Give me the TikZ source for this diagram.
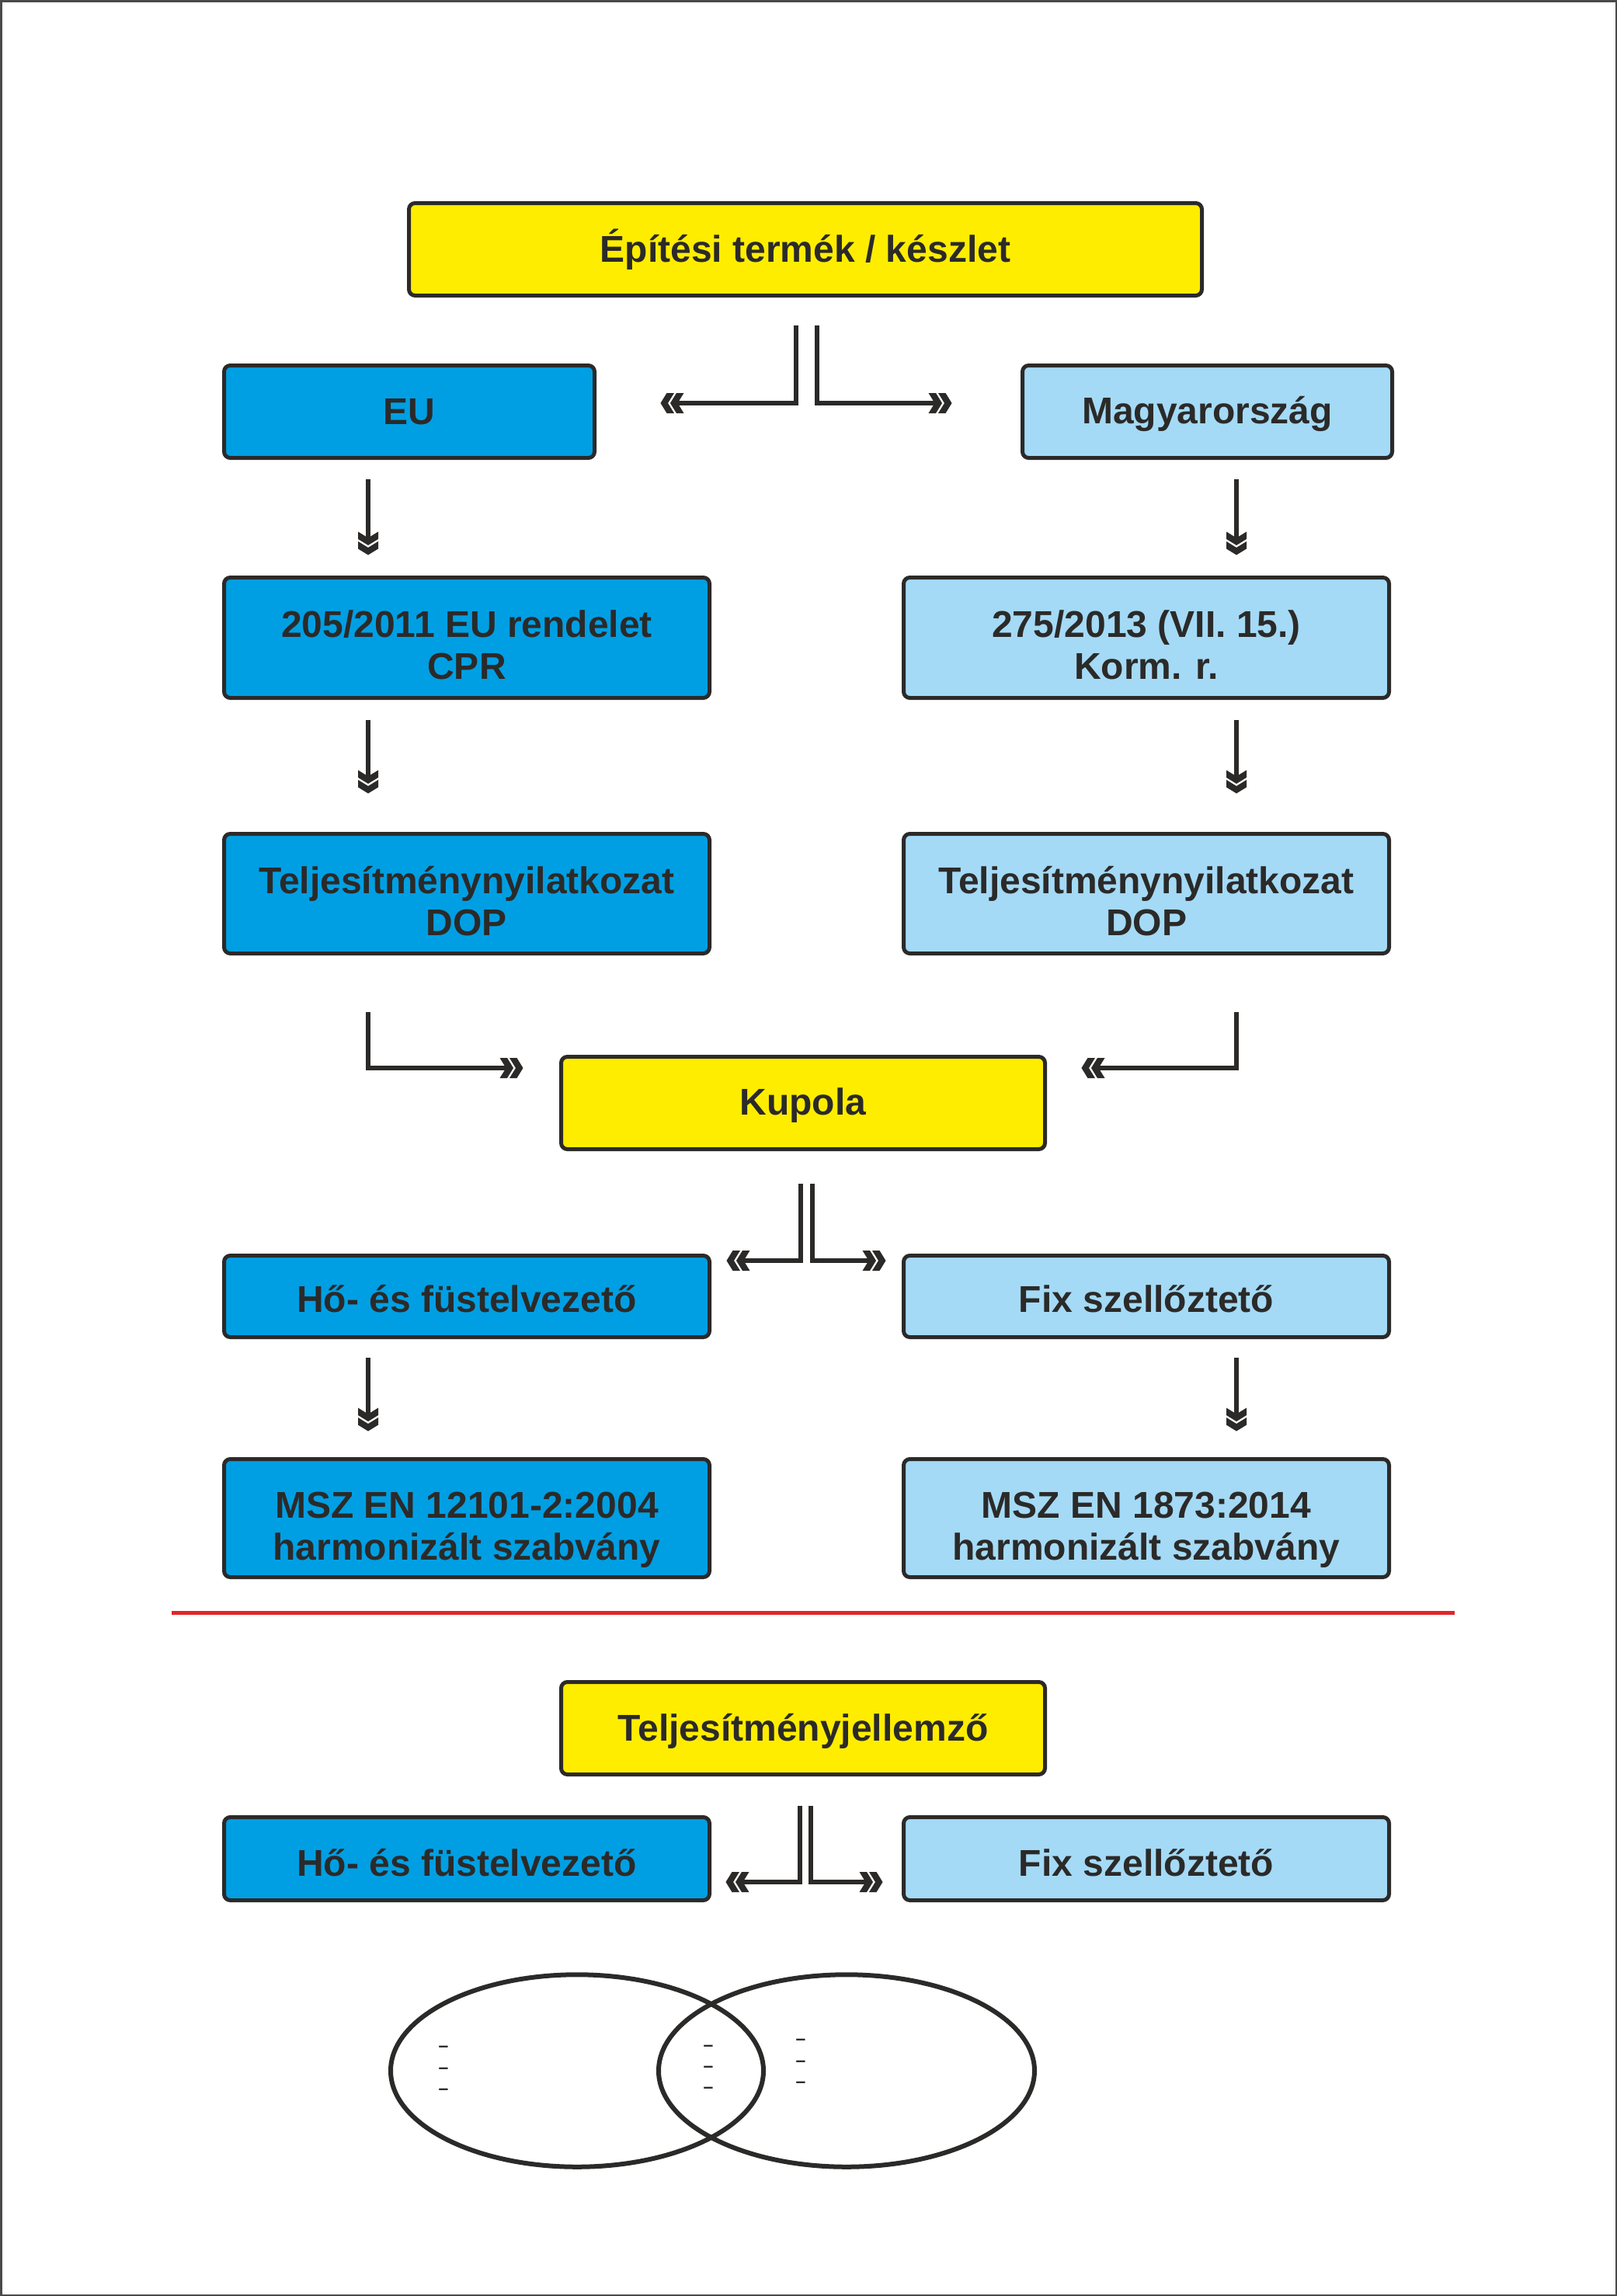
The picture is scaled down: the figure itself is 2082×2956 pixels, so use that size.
\documentclass[tikz,border=0pt]{standalone}
\usepackage{fontspec}
\setmainfont{Liberation Sans}
\usetikzlibrary{arrows.meta}
\definecolor{cYellow}{HTML}{FFED00}
\definecolor{cBlue}{HTML}{009FE3}
\definecolor{cLight}{HTML}{A4DAF6}
\definecolor{cDark}{HTML}{2B2A29}
\definecolor{cRed}{HTML}{E1262B}
\definecolor{cFrame}{HTML}{4A4A4A}

\pgfdeclarearrow{
  name=DChev,
  setup code={
    \pgfarrowssettipend{0pt}
    \pgfarrowssetbackend{-30pt}
    \pgfarrowssetlineend{-21pt}
    \pgfarrowshullpoint{0pt}{0pt}
    \pgfarrowshullpoint{-30pt}{13pt}
    \pgfarrowshullpoint{-30pt}{-13pt}
  },
  drawing code={
    \pgfpathmoveto{\pgfqpoint{0pt}{0pt}}
    \pgfpathlineto{\pgfqpoint{-8pt}{13pt}}
    \pgfpathlineto{\pgfqpoint{-17.5pt}{13pt}}
    \pgfpathlineto{\pgfqpoint{-9.5pt}{0pt}}
    \pgfpathlineto{\pgfqpoint{-17.5pt}{-13pt}}
    \pgfpathlineto{\pgfqpoint{-8pt}{-13pt}}
    \pgfpathclose
    \pgfpathmoveto{\pgfqpoint{-12.5pt}{0pt}}
    \pgfpathlineto{\pgfqpoint{-20.5pt}{13pt}}
    \pgfpathlineto{\pgfqpoint{-30pt}{13pt}}
    \pgfpathlineto{\pgfqpoint{-22pt}{0pt}}
    \pgfpathlineto{\pgfqpoint{-30pt}{-13pt}}
    \pgfpathlineto{\pgfqpoint{-20.5pt}{-13pt}}
    \pgfpathclose
    \pgfusepathqfill
  }
}

\newcommand\dn[2][-16pt]{\raisebox{#1}[\height][\depth]{\begin{tabular}{@{}c@{}}#2\end{tabular}}}

\tikzset{
  box/.style={draw=cDark, line width=5pt, rounded corners=8pt, text=cDark,
    font=\bfseries\fontsize{48}{54}\selectfont, inner sep=0pt},
  ybox/.style={box, fill=cYellow},
  bbox/.style={box, fill=cBlue},
  lbox/.style={box, fill=cLight},
  conn/.style={draw=cDark, line width=6pt, -DChev},
  dashmark/.style={text=cDark, font=\bfseries\fontsize{23}{24}\selectfont, inner sep=0pt},
}

\begin{document}
\begin{tikzpicture}[x=1pt, y=-1pt]
\useasboundingbox (0,0) rectangle (2082,2956);
\draw[cFrame, line width=2.5pt] (1.25,1.25) rectangle (2080.75,2954.75);

% nodes
\node[ybox, minimum width=1021pt, minimum height=119pt] (top) at (1037,321) {\dn[-3pt]{Építési termék / készlet}};
\node[bbox, minimum width=477pt, minimum height=119pt] (eu) at (527,530) {\dn[-6pt]{EU}};
\node[lbox, minimum width=476pt, minimum height=119pt] (mag) at (1554.5,530) {\dn[-5pt]{Magyarország}};
\node[bbox, minimum width=625pt, minimum height=155pt] (r205) at (601,821) {\dn{205/2011 EU rendelet\\CPR}};
\node[lbox, minimum width=625pt, minimum height=155pt] (r275) at (1476,821) {\dn{275/2013 (VII. 15.)\\Korm. r.}};
\node[bbox, minimum width=625pt, minimum height=154pt] (dopL) at (601,1150.5) {\dn{Teljesítménynyilatkozat\\DOP}};
\node[lbox, minimum width=625pt, minimum height=154pt] (dopR) at (1476,1150.5) {\dn{Teljesítménynyilatkozat\\DOP}};
\node[ybox, minimum width=623pt, minimum height=119pt] (kup) at (1034,1420) {\dn[-5pt]{Kupola}};
\node[bbox, minimum width=625pt, minimum height=105pt] (hoL) at (601,1669) {\dn[-10pt]{Hő- és füstelvezető}};
\node[lbox, minimum width=625pt, minimum height=105pt] (fixR) at (1476,1669) {\dn[-10pt]{Fix szellőztető}};
\node[bbox, minimum width=625pt, minimum height=152pt] (mszL) at (601,1954.5) {\dn{MSZ EN 12101-2:2004\\harmonizált szabvány}};
\node[lbox, minimum width=625pt, minimum height=152pt] (mszR) at (1476,1954.5) {\dn{MSZ EN 1873:2014\\harmonizált szabvány}};
\node[ybox, minimum width=623pt, minimum height=119pt] (telj) at (1034,2225) {\dn[-6pt]{Teljesítményjellemző}};
\node[bbox, minimum width=625pt, minimum height=107pt] (ho2) at (601,2393) {\dn[-12pt]{Hő- és füstelvezető}};
\node[lbox, minimum width=625pt, minimum height=107pt] (fix2) at (1476,2393) {\dn[-12pt]{Fix szellőztető}};

% connectors
\draw[conn] ([xshift=-12pt,yshift=-35.5pt]top.south) |- ([xshift=82.5pt,yshift=11pt]eu.east);
\draw[conn] ([xshift=15pt,yshift=-35.5pt]top.south) |- ([xshift=-88.5pt,yshift=11pt]mag.west);

\draw[conn] ([xshift=-53pt,yshift=-24.5pt]eu.south) -- ([xshift=-127pt,yshift=26.5pt]r205.north);
\draw[conn] ([xshift=37.5pt,yshift=-24.5pt]mag.south) -- ([xshift=116pt,yshift=26.5pt]r275.north);

\draw[conn] ([xshift=-127pt,yshift=-25.5pt]r205.south) -- ([xshift=-127pt,yshift=49.5pt]dopL.north);
\draw[conn] ([xshift=116pt,yshift=-25.5pt]r275.south) -- ([xshift=116pt,yshift=49.5pt]dopR.north);

\draw[conn] ([xshift=-127pt,yshift=-72.5pt]dopL.south) |- ([xshift=-46.5pt,yshift=45pt]kup.west);
\draw[conn] ([xshift=116pt,yshift=-72.5pt]dopR.south) |- ([xshift=44.5pt,yshift=45pt]kup.east);

\draw[conn] ([xshift=-3pt,yshift=-41.5pt]kup.south) |- ([xshift=19.5pt,yshift=46pt]hoL.east);
\draw[conn] ([xshift=12pt,yshift=-41.5pt]kup.south) |- ([xshift=-20.5pt,yshift=46pt]fixR.west);

\draw[conn] ([xshift=-127pt,yshift=-23.5pt]hoL.south) -- ([xshift=-127pt,yshift=33.5pt]mszL.north);
\draw[conn] ([xshift=116pt,yshift=-23.5pt]fixR.south) -- ([xshift=116pt,yshift=33.5pt]mszR.north);

\draw[conn] ([xshift=-4.5pt,yshift=-37.5pt]telj.south) |- ([xshift=18.5pt,yshift=-30pt]ho2.east);
\draw[conn] ([xshift=10pt,yshift=-37.5pt]telj.south) |- ([xshift=-24.5pt,yshift=-30pt]fix2.west);

% separator
\draw[cRed, line width=5pt] (221,2076) -- (1873,2076);

% Venn
\draw[cDark, line width=6pt] (743,2666) ellipse [x radius=240pt, y radius=123.75pt];
\draw[cDark, line width=6pt] (1090,2666) ellipse [x radius=242pt, y radius=123.75pt];

\foreach \px/\py [count=\i] in {571/2638, 571/2666, 571/2693,
                                912/2637, 912/2664, 912/2691,
                                1031/2629, 1031/2657, 1031/2684}
  \node[dashmark] (d\i) at (\px,\py) {–};
\end{tikzpicture}
\end{document}
